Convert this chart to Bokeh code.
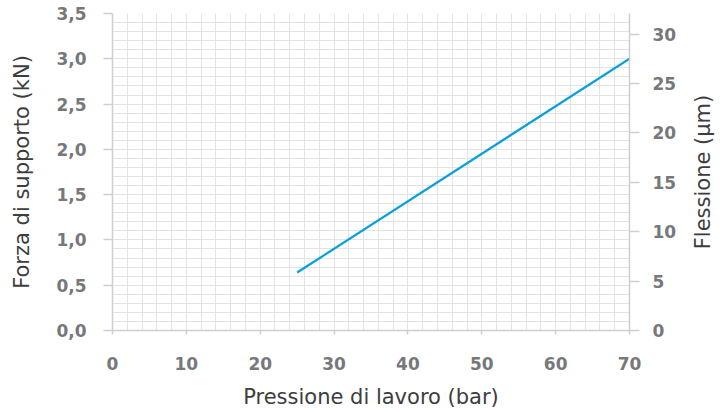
from bokeh.plotting import figure
from bokeh.layouts import row
from bokeh.models import (LinearAxis, Range1d, FixedTicker, CustomJSTickFormatter)
from bokeh.embed import file_html
from bokeh.resources import INLINE

# ---- data ----
pressure_bar = [25, 70]
force_kN = [0.64, 3.0]

x_ticks = [0, 10, 20, 30, 40, 50, 60, 70]
x_grid = list(range(0, 72, 2))
y_ticks = [0.0, 0.5, 1.0, 1.5, 2.0, 2.5, 3.0, 3.5]
y_grid = [i / 10 for i in range(0, 36)]
flex_ticks = [0, 5, 10, 15, 20, 25, 30]
flex_max = 32.08

x_title = "Pressione di lavoro (bar)"
y_title = "Forza di supporto (kN)"
y2_title = "Flessione (µm)"

LABEL_COLOR = "#77787b"
TITLE_COLOR = "#3d3d3d"
AXIS_COLOR = "#cfcfcf"
GRID_COLOR = "#e3e3e3"
LINE_COLOR = "#0a9fdb"

SIDE_W = 40
p = figure(width=725 - SIDE_W, height=412, output_backend="svg", toolbar_location=None,
           x_range=Range1d(0, 70), y_range=Range1d(0, 3.5),
           min_border_left=112, min_border_right=56, min_border_top=13,
           min_border_bottom=82, outline_line_color=None)

p.extra_y_ranges = {"flex": Range1d(0, flex_max)}

# grids
p.xgrid.ticker = FixedTicker(ticks=x_grid)
p.ygrid.ticker = FixedTicker(ticks=y_grid)
for g in (p.xgrid, p.ygrid):
    g.grid_line_color = GRID_COLOR
    g.grid_line_width = 1

def style_axis(ax, tick_out, standoff, title_standoff):
    ax.axis_line_color = AXIS_COLOR
    ax.axis_line_width = 1.5
    ax.major_tick_line_color = AXIS_COLOR
    ax.major_tick_line_width = 1.5
    ax.major_tick_out = tick_out
    ax.major_tick_in = 0
    ax.minor_tick_line_color = None
    ax.major_label_text_font = "DejaVu Sans"
    ax.major_label_text_font_style = "bold"
    ax.major_label_text_font_size = "17px"
    ax.major_label_text_color = LABEL_COLOR
    ax.major_label_standoff = standoff
    ax.axis_label_text_font = "DejaVu Sans"
    ax.axis_label_text_font_style = "normal"
    ax.axis_label_text_font_size = "21px"
    ax.axis_label_text_color = TITLE_COLOR
    ax.axis_label_standoff = title_standoff

# bottom axis
xa = p.xaxis[0]
xa.ticker = FixedTicker(ticks=x_ticks)
xa.axis_label = x_title
style_axis(xa, 4, 22, 12)

# left axis
ya = p.yaxis[0]
ya.ticker = FixedTicker(ticks=y_ticks)
ya.formatter = CustomJSTickFormatter(code="return tick.toFixed(1).replace('.', ',');")
ya.axis_label = y_title
style_axis(ya, 9, 17, 19)

# right axis (ticks + labels)
ra = LinearAxis(y_range_name="flex")
ra.ticker = FixedTicker(ticks=flex_ticks)
style_axis(ra, 10, 13, 0)
p.add_layout(ra, "right")

p.line(pressure_bar, force_kN, line_color=LINE_COLOR, line_width=2.2)

# narrow side figure carrying the right-hand title (reads bottom-to-top)
side = figure(width=SIDE_W, height=412, output_backend="svg", toolbar_location=None,
              x_range=Range1d(0, 1), y_range=Range1d(0, 1),
              min_border_left=SIDE_W - 1, min_border_right=0, min_border_top=13,
              min_border_bottom=82, outline_line_color=None)
side.xaxis.visible = False
side.xgrid.visible = False
side.ygrid.visible = False
sa = side.yaxis[0]
sa.ticker = FixedTicker(ticks=[])
sa.bounds = (0.0, 0.92)          # shifts the title centre slightly below the frame centre
sa.axis_line_color = None
sa.major_tick_line_color = None
sa.minor_tick_line_color = None
sa.major_label_text_font_size = "0px"
sa.axis_label = y2_title
sa.axis_label_text_font = "DejaVu Sans"
sa.axis_label_text_font_style = "normal"
sa.axis_label_text_font_size = "21px"
sa.axis_label_text_color = TITLE_COLOR
sa.axis_label_standoff = 10

layout = row(p, side, spacing=0)

open("out.html", "w").write(file_html(layout, INLINE))
